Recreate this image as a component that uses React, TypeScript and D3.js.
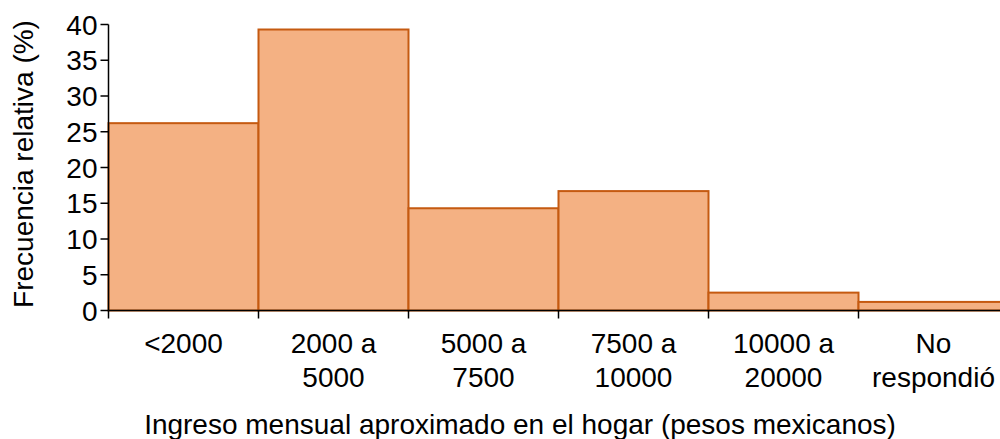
import React from "react";
import * as d3 from "d3";

const categories: string[][] = [
  ["<2000"],
  ["2000 a", "5000"],
  ["5000 a", "7500"],
  ["7500 a", "10000"],
  ["10000 a", "20000"],
  ["No", "respondió"],
];
const values: number[] = [26.2, 39.3, 14.3, 16.7, 2.5, 1.2];
const yTicks: number[] = [0, 5, 10, 15, 20, 25, 30, 35, 40];
const yTitle = "Frecuencia relativa (%)";
const xTitle = "Ingreso mensual aproximado en el hogar (pesos mexicanos)";

const W = 1000;
const H = 439;
const left = 108.5;
const bandW = 150;
const top = 24.5;
const bottom = 310.5;
const FONT = "'Liberation Sans', Arial, sans-serif";
const FS = 28;

export default function App() {
  const x = d3
    .scaleBand<number>()
    .domain(categories.map((_, i) => i))
    .range([left, left + bandW * categories.length])
    .padding(0);
  const y = d3.scaleLinear().domain([0, 40]).range([bottom, top]);
  const boundaries = d3.range(categories.length + 1).map((i) => left + i * x.bandwidth());

  return (
    <svg
      width={W}
      height={H}
      style={{ position: "absolute", left: 0, top: 0, display: "block" }}
      fontFamily={FONT}
    >
      <rect x={0} y={0} width={W} height={H} fill="#fff" />
      {values.map((v, i) => (
        <rect
          key={i}
          x={x(i)!}
          y={y(v)}
          width={x.bandwidth()}
          height={y(0) - y(v)}
          fill="#F4B183"
          stroke="#C55A11"
          strokeWidth={2}
        />
      ))}
      {/* y axis */}
      <line x1={left} x2={left} y1={y(40)} y2={y(0)} stroke="#000" strokeWidth={1.5} />
      {yTicks.map((t) => (
        <g key={t}>
          <line x1={left - 8} x2={left} y1={y(t)} y2={y(t)} stroke="#000" strokeWidth={1.5} />
          <text x={left - 11} y={y(t)} dy="0.36em" textAnchor="end" fontSize={FS} fill="#000">
            {t}
          </text>
        </g>
      ))}
      {/* x axis */}
      <line x1={left} x2={W} y1={y(0)} y2={y(0)} stroke="#000" strokeWidth={1.5} />
      {boundaries.map((b, i) => (
        <line key={i} x1={b} x2={b} y1={y(0)} y2={y(0) + 8} stroke="#000" strokeWidth={1.5} />
      ))}
      {categories.map((lines, i) => (
        <text key={i} x={x(i)! + x.bandwidth() / 2} textAnchor="middle" fontSize={FS} fill="#000">
          {lines.map((l, j) => (
            <tspan key={j} x={x(i)! + x.bandwidth() / 2} y={343 + j * 34} dy="0.36em">
              {l}
            </tspan>
          ))}
        </text>
      ))}
      <text x={520} y={424} dy="0.36em" textAnchor="middle" fontSize={FS} fill="#000">
        {xTitle}
      </text>
      <text
        transform={`translate(23,164) rotate(-90)`}
        dy="0.36em"
        textAnchor="middle"
        fontSize={FS}
        fill="#000"
      >
        {yTitle}
      </text>
    </svg>
  );
}
